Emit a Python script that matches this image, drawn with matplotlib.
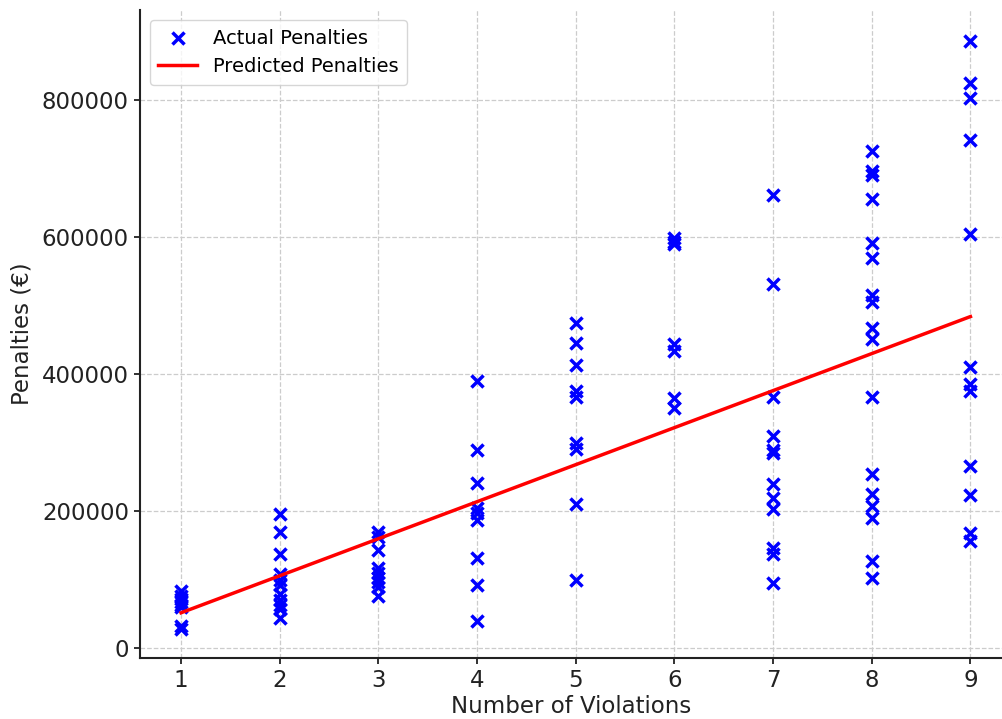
import numpy as np
import matplotlib
matplotlib.use("Agg")
import matplotlib.pyplot as plt

# Data
x1 = [84000, 76000, 72000, 68000, 64000, 60000, 33000, 28000]
x2 = [196000, 170000, 137000, 108000, 100000, 92000, 80000, 70000, 64000, 57000, 45000]
x3 = [170000, 162000, 143000, 117000, 110000, 103000, 97000, 90000, 76000]
x4 = [390000, 289000, 241000, 205000, 198000, 188000, 132000, 93000, 40000]
x5 = [474000, 446000, 413000, 376000, 366000, 299000, 291000, 210000, 100000]
x6 = [598000, 593000, 590000, 444000, 434000, 365000, 351000]
x7 = [662000, 532000, 367000, 310000, 290000, 285000, 240000, 220000, 203000, 147000, 137000, 95000]
x8 = [725000, 697000, 690000, 655000, 591000, 570000, 515000, 505000, 467000, 452000,
      367000, 255000, 225000, 207000, 190000, 127000, 103000]
x9 = [886000, 825000, 803000, 741000, 604000, 411000, 386000, 376000, 266000, 224000, 168000, 156000]

groups = [x1, x2, x3, x4, x5, x6, x7, x8, x9]
violations = [1, 2, 3, 4, 5, 6, 7, 8, 9]

pred_x = [1, 9]
pred_y = [52000, 484000]

xs = np.concatenate([[v] * len(g) for v, g in zip(violations, groups)])
ys = np.concatenate(groups)

fig = plt.figure(figsize=(10.03, 7.19), dpi=100)
ax = fig.add_axes([0.1396, 0.0848, 0.8604, 0.9012])

ax.scatter(xs, ys, marker='x', color='blue', s=75, linewidths=2.5,
           label='Actual Penalties', zorder=3)
ax.plot(pred_x, pred_y, color='red', linewidth=2.5, label='Predicted Penalties', zorder=4)

ax.set_xlim(0.584, 9.33)
ax.set_ylim(-14000, 931000)
ax.set_xticks(violations)
ax.set_yticks([0, 200000, 400000, 600000, 800000])
ax.ticklabel_format(axis='y', style='plain', useOffset=False)

ax.grid(True, linestyle='--', color='#cccccc', linewidth=0.9)
ax.set_axisbelow(True)
for s in ['top', 'right']:
    ax.spines[s].set_visible(False)
for s in ['left', 'bottom']:
    ax.spines[s].set_color('#222222')
    ax.spines[s].set_linewidth(1.5)

ax.tick_params(axis='both', labelsize=16.5, length=4, width=1.3, colors='#222222',
               direction='out', pad=4)
ax.set_xlabel('Number of Violations', fontsize=16.5, color='#222222', labelpad=2)
ax.set_ylabel('Penalties (€)', fontsize=16.5, color='#222222', labelpad=6)

leg = ax.legend(loc='upper left', fontsize=14, frameon=True, borderpad=0.45,
                handlelength=2.0, bbox_to_anchor=(0.0, 1.0))
leg.get_frame().set_edgecolor('#cccccc')

fig.savefig('out.png', dpi=100)
